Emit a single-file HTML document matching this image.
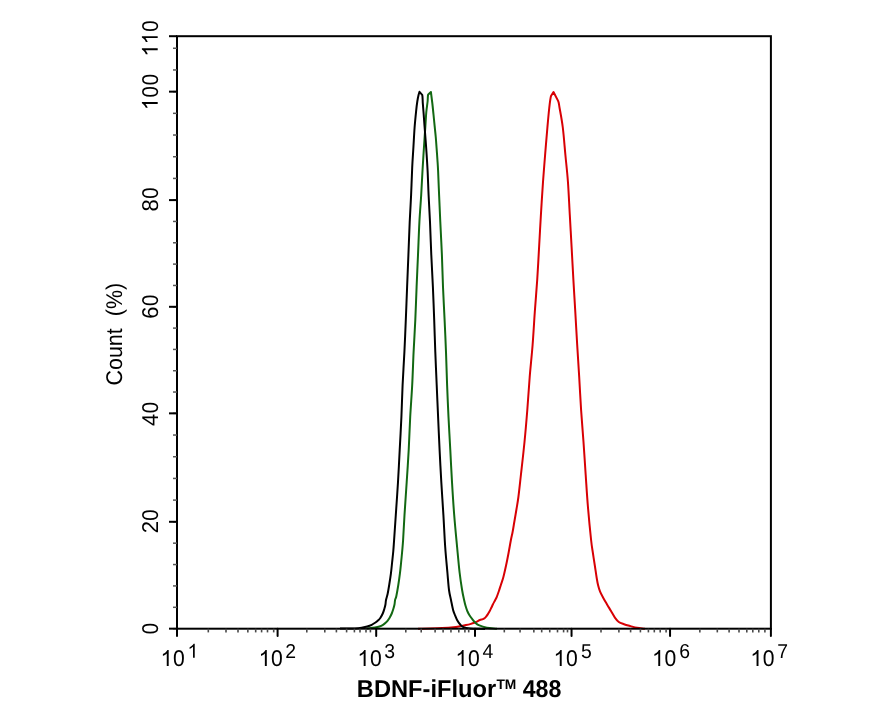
<!DOCTYPE html>
<html><head><meta charset="utf-8"><style>
html,body{margin:0;padding:0;background:#fff;}
svg{display:block;will-change:transform;}
text{font-family:"Liberation Sans",sans-serif;fill:#000;text-rendering:geometricPrecision;}
</style></head><body>
<svg width="888" height="711" viewBox="0 0 888 711">
<path d="M418.00,628.70 C422.00,628.63 426.00,628.60 430.00,628.50 C434.00,628.40 438.08,628.30 442.00,628.10 C445.92,627.90 450.50,627.60 453.50,627.30 C456.50,627.00 457.92,626.67 460.00,626.30 C462.08,625.93 464.30,625.47 466.00,625.10 C467.70,624.73 468.80,624.48 470.20,624.10 C471.60,623.72 473.20,623.27 474.40,622.80 C475.60,622.33 476.48,621.76 477.40,621.30 C478.32,620.84 478.98,620.42 479.90,620.05 C480.82,619.68 482.12,619.41 482.90,619.10 C483.68,618.79 484.03,618.67 484.60,618.20 C485.17,617.73 485.75,616.98 486.30,616.30 C486.85,615.62 487.35,614.95 487.90,614.10 C488.45,613.25 489.03,612.25 489.60,611.20 C490.17,610.15 490.73,608.97 491.30,607.80 C491.87,606.63 492.37,605.47 493.00,604.20 C493.63,602.93 494.47,601.43 495.10,600.20 C495.73,598.97 496.17,598.33 496.80,596.80 C497.43,595.27 498.20,593.05 498.90,591.00 C499.60,588.95 500.25,586.83 501.00,584.50 C501.75,582.17 502.55,580.20 503.40,577.00 C504.25,573.80 505.23,569.35 506.10,565.30 C506.97,561.25 507.80,556.92 508.60,552.70 C509.40,548.48 510.23,543.45 510.90,540.00 C511.57,536.55 512.03,535.00 512.60,532.00 C513.17,529.00 513.65,525.83 514.30,522.00 C514.95,518.17 515.82,513.17 516.50,509.00 C517.18,504.83 517.67,502.67 518.40,497.00 C519.13,491.33 519.88,484.17 520.90,475.00 C521.92,465.83 523.43,452.83 524.50,442.00 C525.57,431.17 526.43,420.83 527.30,410.00 C528.17,399.17 528.82,387.83 529.70,377.00 C530.58,366.17 531.75,355.83 532.60,345.00 C533.45,334.17 534.03,322.83 534.80,312.00 C535.57,301.17 536.48,290.83 537.20,280.00 C537.92,269.17 538.48,257.83 539.10,247.00 C539.72,236.17 540.25,225.83 540.90,215.00 C541.55,204.17 542.30,192.00 543.00,182.00 C543.70,172.00 544.37,164.08 545.10,155.00 C545.83,145.92 546.70,135.42 547.40,127.50 C548.10,119.58 548.70,112.75 549.30,107.50 C549.90,102.25 550.30,98.58 551.00,96.00 L553.50,92.00 L558.10,100.90 C559.10,103.48 558.72,103.07 559.50,107.50 C560.28,111.93 561.82,119.58 562.80,127.50 C563.78,135.42 564.54,145.92 565.40,155.00 C566.26,164.08 567.22,172.00 567.95,182.00 C568.68,192.00 569.19,204.17 569.80,215.00 C570.41,225.83 571.00,236.17 571.60,247.00 C572.20,257.83 572.78,269.17 573.40,280.00 C574.02,290.83 574.67,301.17 575.30,312.00 C575.93,322.83 576.55,334.17 577.20,345.00 C577.85,355.83 578.55,366.17 579.20,377.00 C579.85,387.83 580.38,399.17 581.10,410.00 C581.82,420.83 582.73,431.17 583.50,442.00 C584.27,452.83 584.96,464.17 585.70,475.00 C586.44,485.83 587.05,496.17 587.95,507.00 C588.85,517.83 590.28,532.33 591.10,540.00 C591.92,547.67 592.27,548.67 592.90,553.00 C593.53,557.33 594.27,561.83 594.90,566.00 C595.53,570.17 596.17,574.78 596.70,578.00 C597.23,581.22 597.53,583.02 598.10,585.30 C598.67,587.58 599.23,589.58 600.10,591.70 C600.97,593.82 602.12,595.83 603.30,598.00 C604.48,600.17 605.92,602.53 607.20,604.70 C608.48,606.87 609.72,608.85 611.00,611.00 C612.28,613.15 613.60,615.77 614.90,617.60 C616.20,619.43 617.28,620.90 618.80,622.00 C620.32,623.10 622.05,623.52 624.00,624.20 C625.95,624.88 628.33,625.50 630.50,626.10 C632.67,626.70 634.58,627.37 637.00,627.80 C639.42,628.23 642.33,628.40 645.00,628.70" fill="none" stroke="#d80004" stroke-width="2" stroke-linejoin="round"/>
<path d="M366.00,628.70 C368.97,628.30 372.67,627.87 374.90,627.50 C377.13,627.13 378.05,626.95 379.40,626.50 C380.75,626.05 381.92,625.47 383.00,624.80 C384.08,624.13 385.08,623.25 385.90,622.50 C386.72,621.75 387.30,621.05 387.90,620.30 C388.50,619.55 388.86,619.13 389.50,618.00 C390.14,616.87 391.12,615.00 391.75,613.50 C392.38,612.00 392.84,610.50 393.30,609.00 C393.76,607.50 394.20,606.00 394.50,604.50 C394.80,603.00 394.80,601.38 395.10,600.00 C395.40,598.62 395.77,598.70 396.30,596.20 C396.83,593.70 397.70,588.75 398.30,585.00 C398.90,581.25 399.43,577.45 399.90,573.70 C400.37,569.95 400.72,566.28 401.10,562.50 C401.48,558.72 401.87,554.75 402.20,551.00 C402.53,547.25 402.72,546.00 403.10,540.00 C403.48,534.00 403.90,524.67 404.50,515.00 C405.10,505.33 406.00,492.83 406.70,482.00 C407.40,471.17 408.12,460.83 408.70,450.00 C409.28,439.17 409.62,427.83 410.20,417.00 C410.78,406.17 411.63,395.83 412.20,385.00 C412.77,374.17 413.08,362.83 413.60,352.00 C414.12,341.17 414.80,330.83 415.30,320.00 C415.80,309.17 416.15,297.83 416.60,287.00 C417.05,276.17 417.53,265.83 418.00,255.00 C418.47,244.17 418.87,232.00 419.40,222.00 C419.93,212.00 420.68,203.55 421.20,195.00 C421.72,186.45 422.05,178.50 422.50,170.70 C422.95,162.90 423.42,155.70 423.90,148.20 C424.38,140.70 425.00,131.73 425.40,125.70 C425.80,119.67 425.93,116.03 426.30,112.00 C426.67,107.97 427.28,104.43 427.60,101.50 C427.92,98.57 427.65,95.98 428.20,94.40 L430.90,92.00 L432.30,103.00 C432.73,106.75 433.12,110.72 433.50,114.50 C433.88,118.28 434.23,121.95 434.60,125.70 C434.98,129.45 435.42,133.25 435.75,137.00 C436.08,140.75 436.33,144.45 436.60,148.20 C436.88,151.95 437.15,155.75 437.40,159.50 C437.65,163.25 437.82,164.78 438.10,170.70 C438.38,176.62 438.73,186.45 439.10,195.00 C439.47,203.55 439.83,212.00 440.30,222.00 C440.77,232.00 441.45,244.17 441.90,255.00 C442.35,265.83 442.55,276.17 443.00,287.00 C443.45,297.83 444.10,309.17 444.60,320.00 C445.10,330.83 445.58,341.17 446.00,352.00 C446.42,362.83 446.68,374.17 447.10,385.00 C447.52,395.83 447.97,406.17 448.50,417.00 C449.03,427.83 449.72,439.17 450.30,450.00 C450.88,460.83 451.35,471.17 452.00,482.00 C452.65,492.83 453.35,504.17 454.20,515.00 C455.05,525.83 456.20,537.42 457.10,547.00 C458.00,556.58 458.77,565.33 459.60,572.50 C460.43,579.67 461.35,585.42 462.10,590.00 C462.85,594.58 463.52,597.33 464.10,600.00 C464.68,602.67 465.03,604.08 465.60,606.00 C466.17,607.92 466.80,609.87 467.50,611.50 C468.20,613.13 469.00,614.52 469.80,615.80 C470.60,617.08 471.38,618.07 472.30,619.20 C473.22,620.33 474.23,621.62 475.30,622.60 C476.37,623.58 476.78,624.25 478.70,625.10 C480.62,625.95 483.75,627.10 486.80,627.70 C489.85,628.30 493.60,628.37 497.00,628.70" fill="none" stroke="#126812" stroke-width="2" stroke-linejoin="round"/>
<path d="M340.00,628.60 C345.00,628.53 351.22,628.58 355.00,628.40 C358.78,628.22 360.67,627.82 362.70,627.50 C364.73,627.18 365.70,626.95 367.20,626.50 C368.70,626.05 370.32,625.47 371.70,624.80 C373.08,624.13 374.42,623.25 375.50,622.50 C376.58,621.75 377.40,621.05 378.20,620.30 C379.00,619.55 379.54,619.13 380.30,618.00 C381.06,616.87 382.08,615.00 382.75,613.50 C383.42,612.00 383.85,610.50 384.30,609.00 C384.75,607.50 385.17,606.00 385.45,604.50 C385.73,603.00 385.64,601.75 386.00,600.00 C386.36,598.25 387.07,596.50 387.60,594.00 C388.13,591.50 388.65,588.38 389.20,585.00 C389.75,581.62 390.42,577.45 390.90,573.70 C391.38,569.95 391.70,566.28 392.10,562.50 C392.50,558.72 392.97,554.75 393.30,551.00 C393.63,547.25 393.68,546.00 394.10,540.00 C394.52,534.00 395.15,524.67 395.80,515.00 C396.45,505.33 397.35,492.83 398.00,482.00 C398.65,471.17 399.13,460.83 399.70,450.00 C400.27,439.17 400.92,427.83 401.40,417.00 C401.88,406.17 402.10,395.83 402.60,385.00 C403.10,374.17 403.87,362.83 404.40,352.00 C404.93,341.17 405.35,330.83 405.80,320.00 C406.25,309.17 406.67,297.83 407.10,287.00 C407.53,276.17 407.97,265.83 408.40,255.00 C408.83,244.17 409.25,232.00 409.70,222.00 C410.15,212.00 410.68,204.08 411.10,195.00 C411.52,185.92 411.82,175.42 412.20,167.50 C412.58,159.58 413.00,154.17 413.40,147.50 C413.80,140.83 414.15,133.53 414.60,127.50 C415.05,121.47 415.65,115.63 416.10,111.30 C416.55,106.97 416.88,104.25 417.30,101.50 C417.72,98.75 418.23,96.42 418.60,94.80 L419.50,91.80 L422.20,94.80 C422.75,96.70 422.55,99.92 422.80,103.20 C423.05,106.48 423.42,110.75 423.70,114.50 C423.98,118.25 424.08,120.08 424.50,125.70 C424.92,131.32 425.68,140.70 426.20,148.20 C426.72,155.70 427.20,162.90 427.60,170.70 C428.00,178.50 428.20,186.45 428.60,195.00 C429.00,203.55 429.55,212.00 430.00,222.00 C430.45,232.00 430.82,244.17 431.30,255.00 C431.78,265.83 432.42,276.17 432.90,287.00 C433.38,297.83 433.80,309.17 434.20,320.00 C434.60,330.83 434.88,341.17 435.30,352.00 C435.72,362.83 436.23,374.17 436.70,385.00 C437.17,395.83 437.62,406.17 438.10,417.00 C438.58,427.83 439.07,439.17 439.60,450.00 C440.13,460.83 440.67,471.17 441.30,482.00 C441.93,492.83 442.75,504.17 443.40,515.00 C444.05,525.83 444.53,537.42 445.20,547.00 C445.87,556.58 446.77,565.33 447.40,572.50 C448.03,579.67 448.40,585.42 449.00,590.00 C449.60,594.58 450.32,596.67 451.00,600.00 C451.68,603.33 452.45,607.50 453.10,610.00 C453.75,612.50 454.23,613.33 454.90,615.00 C455.57,616.67 456.28,618.50 457.10,620.00 C457.92,621.50 458.75,622.80 459.80,624.00 C460.85,625.20 461.70,626.45 463.40,627.20 C465.10,627.95 466.40,628.22 470.00,628.50 C473.60,628.78 480.00,628.77 485.00,628.90" fill="none" stroke="#000" stroke-width="2" stroke-linejoin="round"/>
<rect x="177.0" y="36.2" width="593.90" height="592.50" fill="none" stroke="#000" stroke-width="2"/>
<line x1="173" y1="628.67" x2="177.0" y2="628.67" stroke="#555" stroke-width="1.5"/>
<line x1="173" y1="607.30" x2="177.0" y2="607.30" stroke="#555" stroke-width="1.5"/>
<line x1="173" y1="585.92" x2="177.0" y2="585.92" stroke="#555" stroke-width="1.5"/>
<line x1="173" y1="564.55" x2="177.0" y2="564.55" stroke="#555" stroke-width="1.5"/>
<line x1="173" y1="543.17" x2="177.0" y2="543.17" stroke="#555" stroke-width="1.5"/>
<line x1="173" y1="521.80" x2="177.0" y2="521.80" stroke="#555" stroke-width="1.5"/>
<line x1="173" y1="500.11" x2="177.0" y2="500.11" stroke="#555" stroke-width="1.5"/>
<line x1="173" y1="478.42" x2="177.0" y2="478.42" stroke="#555" stroke-width="1.5"/>
<line x1="173" y1="456.73" x2="177.0" y2="456.73" stroke="#555" stroke-width="1.5"/>
<line x1="173" y1="435.04" x2="177.0" y2="435.04" stroke="#555" stroke-width="1.5"/>
<line x1="173" y1="413.35" x2="177.0" y2="413.35" stroke="#555" stroke-width="1.5"/>
<line x1="173" y1="392.04" x2="177.0" y2="392.04" stroke="#555" stroke-width="1.5"/>
<line x1="173" y1="370.73" x2="177.0" y2="370.73" stroke="#555" stroke-width="1.5"/>
<line x1="173" y1="349.42" x2="177.0" y2="349.42" stroke="#555" stroke-width="1.5"/>
<line x1="173" y1="328.11" x2="177.0" y2="328.11" stroke="#555" stroke-width="1.5"/>
<line x1="173" y1="306.80" x2="177.0" y2="306.80" stroke="#555" stroke-width="1.5"/>
<line x1="173" y1="285.46" x2="177.0" y2="285.46" stroke="#555" stroke-width="1.5"/>
<line x1="173" y1="264.12" x2="177.0" y2="264.12" stroke="#555" stroke-width="1.5"/>
<line x1="173" y1="242.78" x2="177.0" y2="242.78" stroke="#555" stroke-width="1.5"/>
<line x1="173" y1="221.44" x2="177.0" y2="221.44" stroke="#555" stroke-width="1.5"/>
<line x1="173" y1="200.10" x2="177.0" y2="200.10" stroke="#555" stroke-width="1.5"/>
<line x1="173" y1="178.41" x2="177.0" y2="178.41" stroke="#555" stroke-width="1.5"/>
<line x1="173" y1="156.72" x2="177.0" y2="156.72" stroke="#555" stroke-width="1.5"/>
<line x1="173" y1="135.03" x2="177.0" y2="135.03" stroke="#555" stroke-width="1.5"/>
<line x1="173" y1="113.34" x2="177.0" y2="113.34" stroke="#555" stroke-width="1.5"/>
<line x1="173" y1="91.65" x2="177.0" y2="91.65" stroke="#555" stroke-width="1.5"/>
<line x1="173" y1="69.96" x2="177.0" y2="69.96" stroke="#555" stroke-width="1.5"/>
<line x1="173" y1="48.27" x2="177.0" y2="48.27" stroke="#555" stroke-width="1.5"/>
<line x1="169" y1="628.67" x2="177.0" y2="628.67" stroke="#000" stroke-width="2"/>
<line x1="169" y1="521.80" x2="177.0" y2="521.80" stroke="#000" stroke-width="2"/>
<line x1="169" y1="413.35" x2="177.0" y2="413.35" stroke="#000" stroke-width="2"/>
<line x1="169" y1="306.80" x2="177.0" y2="306.80" stroke="#000" stroke-width="2"/>
<line x1="169" y1="200.10" x2="177.0" y2="200.10" stroke="#000" stroke-width="2"/>
<line x1="169" y1="91.65" x2="177.0" y2="91.65" stroke="#000" stroke-width="2"/>
<line x1="169" y1="36.20" x2="177.0" y2="36.20" stroke="#000" stroke-width="2"/>
<line x1="208.30" y1="628.7" x2="208.30" y2="632.4" stroke="#4a4a4a" stroke-width="1.6"/>
<line x1="226.00" y1="628.7" x2="226.00" y2="632.4" stroke="#4a4a4a" stroke-width="1.6"/>
<line x1="238.00" y1="628.7" x2="238.00" y2="632.4" stroke="#4a4a4a" stroke-width="1.6"/>
<line x1="247.85" y1="628.7" x2="247.85" y2="632.4" stroke="#4a4a4a" stroke-width="1.6"/>
<line x1="255.70" y1="628.7" x2="255.70" y2="632.4" stroke="#4a4a4a" stroke-width="1.6"/>
<line x1="261.60" y1="628.7" x2="261.60" y2="632.4" stroke="#4a4a4a" stroke-width="1.6"/>
<line x1="267.50" y1="628.7" x2="267.50" y2="632.4" stroke="#4a4a4a" stroke-width="1.6"/>
<line x1="273.70" y1="628.7" x2="273.70" y2="632.4" stroke="#4a4a4a" stroke-width="1.6"/>
<line x1="306.80" y1="628.7" x2="306.80" y2="632.4" stroke="#4a4a4a" stroke-width="1.6"/>
<line x1="324.80" y1="628.7" x2="324.80" y2="632.4" stroke="#4a4a4a" stroke-width="1.6"/>
<line x1="336.40" y1="628.7" x2="336.40" y2="632.4" stroke="#4a4a4a" stroke-width="1.6"/>
<line x1="346.60" y1="628.7" x2="346.60" y2="632.4" stroke="#4a4a4a" stroke-width="1.6"/>
<line x1="354.40" y1="628.7" x2="354.40" y2="632.4" stroke="#4a4a4a" stroke-width="1.6"/>
<line x1="360.00" y1="628.7" x2="360.00" y2="632.4" stroke="#4a4a4a" stroke-width="1.6"/>
<line x1="366.00" y1="628.7" x2="366.00" y2="632.4" stroke="#4a4a4a" stroke-width="1.6"/>
<line x1="370.40" y1="628.7" x2="370.40" y2="632.4" stroke="#4a4a4a" stroke-width="1.6"/>
<line x1="405.80" y1="628.7" x2="405.80" y2="632.4" stroke="#4a4a4a" stroke-width="1.6"/>
<line x1="421.20" y1="628.7" x2="421.20" y2="632.4" stroke="#4a4a4a" stroke-width="1.6"/>
<line x1="435.10" y1="628.7" x2="435.10" y2="632.4" stroke="#4a4a4a" stroke-width="1.6"/>
<line x1="443.10" y1="628.7" x2="443.10" y2="632.4" stroke="#4a4a4a" stroke-width="1.6"/>
<line x1="450.95" y1="628.7" x2="450.95" y2="632.4" stroke="#4a4a4a" stroke-width="1.6"/>
<line x1="458.80" y1="628.7" x2="458.80" y2="632.4" stroke="#4a4a4a" stroke-width="1.6"/>
<line x1="464.90" y1="628.7" x2="464.90" y2="632.4" stroke="#4a4a4a" stroke-width="1.6"/>
<line x1="468.70" y1="628.7" x2="468.70" y2="632.4" stroke="#4a4a4a" stroke-width="1.6"/>
<line x1="504.30" y1="628.7" x2="504.30" y2="632.4" stroke="#4a4a4a" stroke-width="1.6"/>
<line x1="520.05" y1="628.7" x2="520.05" y2="632.4" stroke="#4a4a4a" stroke-width="1.6"/>
<line x1="533.85" y1="628.7" x2="533.85" y2="632.4" stroke="#4a4a4a" stroke-width="1.6"/>
<line x1="541.70" y1="628.7" x2="541.70" y2="632.4" stroke="#4a4a4a" stroke-width="1.6"/>
<line x1="549.75" y1="628.7" x2="549.75" y2="632.4" stroke="#4a4a4a" stroke-width="1.6"/>
<line x1="557.50" y1="628.7" x2="557.50" y2="632.4" stroke="#4a4a4a" stroke-width="1.6"/>
<line x1="563.60" y1="628.7" x2="563.60" y2="632.4" stroke="#4a4a4a" stroke-width="1.6"/>
<line x1="567.50" y1="628.7" x2="567.50" y2="632.4" stroke="#4a4a4a" stroke-width="1.6"/>
<line x1="601.00" y1="628.7" x2="601.00" y2="632.4" stroke="#4a4a4a" stroke-width="1.6"/>
<line x1="618.90" y1="628.7" x2="618.90" y2="632.4" stroke="#4a4a4a" stroke-width="1.6"/>
<line x1="630.60" y1="628.7" x2="630.60" y2="632.4" stroke="#4a4a4a" stroke-width="1.6"/>
<line x1="640.40" y1="628.7" x2="640.40" y2="632.4" stroke="#4a4a4a" stroke-width="1.6"/>
<line x1="648.40" y1="628.7" x2="648.40" y2="632.4" stroke="#4a4a4a" stroke-width="1.6"/>
<line x1="654.30" y1="628.7" x2="654.30" y2="632.4" stroke="#4a4a4a" stroke-width="1.6"/>
<line x1="660.20" y1="628.7" x2="660.20" y2="632.4" stroke="#4a4a4a" stroke-width="1.6"/>
<line x1="666.10" y1="628.7" x2="666.10" y2="632.4" stroke="#4a4a4a" stroke-width="1.6"/>
<line x1="699.85" y1="628.7" x2="699.85" y2="632.4" stroke="#4a4a4a" stroke-width="1.6"/>
<line x1="717.30" y1="628.7" x2="717.30" y2="632.4" stroke="#4a4a4a" stroke-width="1.6"/>
<line x1="729.10" y1="628.7" x2="729.10" y2="632.4" stroke="#4a4a4a" stroke-width="1.6"/>
<line x1="739.00" y1="628.7" x2="739.00" y2="632.4" stroke="#4a4a4a" stroke-width="1.6"/>
<line x1="746.80" y1="628.7" x2="746.80" y2="632.4" stroke="#4a4a4a" stroke-width="1.6"/>
<line x1="752.80" y1="628.7" x2="752.80" y2="632.4" stroke="#4a4a4a" stroke-width="1.6"/>
<line x1="758.80" y1="628.7" x2="758.80" y2="632.4" stroke="#4a4a4a" stroke-width="1.6"/>
<line x1="764.90" y1="628.7" x2="764.90" y2="632.4" stroke="#4a4a4a" stroke-width="1.6"/>
<line x1="177.00" y1="628.7" x2="177.00" y2="636" stroke="#000" stroke-width="2" stroke-linecap="round"/>
<line x1="277.60" y1="628.7" x2="277.60" y2="636" stroke="#000" stroke-width="2" stroke-linecap="round"/>
<line x1="376.20" y1="628.7" x2="376.20" y2="636" stroke="#000" stroke-width="2" stroke-linecap="round"/>
<line x1="475.00" y1="628.7" x2="475.00" y2="636" stroke="#000" stroke-width="2" stroke-linecap="round"/>
<line x1="571.55" y1="628.7" x2="571.55" y2="636" stroke="#000" stroke-width="2" stroke-linecap="round"/>
<line x1="670.05" y1="628.7" x2="670.05" y2="636" stroke="#000" stroke-width="2" stroke-linecap="round"/>
<line x1="770.90" y1="628.7" x2="770.90" y2="636" stroke="#000" stroke-width="2" stroke-linecap="round"/>
<g transform="translate(157.7 628.50) rotate(-90)"><text x="-6.12" y="0" font-size="22" transform="translate(0.00 0) scale(0.93 1.04) translate(-0.00 0)">0</text></g>
<g transform="translate(157.7 521.10) rotate(-90)"><text x="-12.24" y="0" font-size="22" transform="scale(1 1.04)">2</text><text x="0.00" y="0" font-size="22" transform="translate(6.12 0) scale(0.93 1.04) translate(-6.12 0)">0</text></g>
<g transform="translate(157.7 413.80) rotate(-90)"><text x="-12.24" y="0" font-size="22" transform="scale(1 1.04)">4</text><text x="0.00" y="0" font-size="22" transform="translate(6.12 0) scale(0.93 1.04) translate(-6.12 0)">0</text></g>
<g transform="translate(157.7 306.45) rotate(-90)"><text x="-12.24" y="0" font-size="22" transform="scale(1 1.04)">6</text><text x="0.00" y="0" font-size="22" transform="translate(6.12 0) scale(0.93 1.04) translate(-6.12 0)">0</text></g>
<g transform="translate(157.7 199.20) rotate(-90)"><text x="-12.24" y="0" font-size="22" transform="scale(1 1.04)">8</text><text x="0.00" y="0" font-size="22" transform="translate(6.12 0) scale(0.93 1.04) translate(-6.12 0)">0</text></g>
<g transform="translate(157.7 91.90) rotate(-90)"><path d="M763 0H583V1147Q518 1085 412.5 1023T223 930V1104Q373 1175 485.5 1276T645 1472H763V0Z" transform="translate(-18.35 0) scale(0.01074 -0.01074)"/><text x="-6.12" y="0" font-size="22" transform="translate(0.00 0) scale(0.93 1.04) translate(-0.00 0)">0</text><text x="6.12" y="0" font-size="22" transform="translate(12.24 0) scale(0.93 1.04) translate(-12.24 0)">0</text></g>
<g transform="translate(157.7 38.20) rotate(-90)"><path d="M763 0H583V1147Q518 1085 412.5 1023T223 930V1104Q373 1175 485.5 1276T645 1472H763V0Z" transform="translate(-18.35 0) scale(0.01074 -0.01074)"/><path d="M763 0H583V1147Q518 1085 412.5 1023T223 930V1104Q373 1175 485.5 1276T645 1472H763V0Z" transform="translate(-6.12 0) scale(0.01074 -0.01074)"/><text x="6.12" y="0" font-size="22" transform="translate(12.24 0) scale(0.93 1.04) translate(-12.24 0)">0</text></g>
<g transform="translate(160.50 665.9)"><path d="M763 0H583V1147Q518 1085 412.5 1023T223 930V1104Q373 1175 485.5 1276T645 1472H763V0Z" transform="translate(0.00 0) scale(0.01074 -0.01074)"/><text x="12.24" y="0" font-size="22" transform="translate(18.35 0) scale(0.96 1.04) translate(-18.35 0)">0</text></g><g transform="translate(187.50 657.7)"><path d="M763 0H583V1147Q518 1085 412.5 1023T223 930V1104Q373 1175 485.5 1276T645 1472H763V0Z" transform="translate(0.00 0) scale(0.00947 -0.00947)"/></g>
<g transform="translate(258.60 665.9)"><path d="M763 0H583V1147Q518 1085 412.5 1023T223 930V1104Q373 1175 485.5 1276T645 1472H763V0Z" transform="translate(0.00 0) scale(0.01074 -0.01074)"/><text x="12.24" y="0" font-size="22" transform="translate(18.35 0) scale(0.96 1.04) translate(-18.35 0)">0</text></g><g transform="translate(285.20 657.7)"><text x="0.00" y="0" font-size="19.4" transform="scale(1 1.04)">2</text></g>
<g transform="translate(357.40 665.9)"><path d="M763 0H583V1147Q518 1085 412.5 1023T223 930V1104Q373 1175 485.5 1276T645 1472H763V0Z" transform="translate(0.00 0) scale(0.01074 -0.01074)"/><text x="12.24" y="0" font-size="22" transform="translate(18.35 0) scale(0.96 1.04) translate(-18.35 0)">0</text></g><g transform="translate(384.30 657.7)"><text x="0.00" y="0" font-size="19.4" transform="scale(1 1.04)">3</text></g>
<g transform="translate(455.40 665.9)"><path d="M763 0H583V1147Q518 1085 412.5 1023T223 930V1104Q373 1175 485.5 1276T645 1472H763V0Z" transform="translate(0.00 0) scale(0.01074 -0.01074)"/><text x="12.24" y="0" font-size="22" transform="translate(18.35 0) scale(0.96 1.04) translate(-18.35 0)">0</text></g><g transform="translate(482.60 657.7)"><text x="0.00" y="0" font-size="19.4" transform="scale(1 1.04)">4</text></g>
<g transform="translate(553.50 665.9)"><path d="M763 0H583V1147Q518 1085 412.5 1023T223 930V1104Q373 1175 485.5 1276T645 1472H763V0Z" transform="translate(0.00 0) scale(0.01074 -0.01074)"/><text x="12.24" y="0" font-size="22" transform="translate(18.35 0) scale(0.96 1.04) translate(-18.35 0)">0</text></g><g transform="translate(580.90 657.7)"><text x="0.00" y="0" font-size="19.4" transform="scale(1 1.04)">5</text></g>
<g transform="translate(652.00 665.9)"><path d="M763 0H583V1147Q518 1085 412.5 1023T223 930V1104Q373 1175 485.5 1276T645 1472H763V0Z" transform="translate(0.00 0) scale(0.01074 -0.01074)"/><text x="12.24" y="0" font-size="22" transform="translate(18.35 0) scale(0.96 1.04) translate(-18.35 0)">0</text></g><g transform="translate(679.20 657.7)"><text x="0.00" y="0" font-size="19.4" transform="scale(1 1.04)">6</text></g>
<g transform="translate(750.30 665.9)"><path d="M763 0H583V1147Q518 1085 412.5 1023T223 930V1104Q373 1175 485.5 1276T645 1472H763V0Z" transform="translate(0.00 0) scale(0.01074 -0.01074)"/><text x="12.24" y="0" font-size="22" transform="translate(18.35 0) scale(0.96 1.04) translate(-18.35 0)">0</text></g><g transform="translate(777.20 657.7)"><text x="0.00" y="0" font-size="19.4" transform="scale(1 1.04)">7</text></g>
<text transform="translate(122.1 334.2) rotate(-90) scale(1 1.06)" text-anchor="middle" font-size="21.5" xml:space="preserve" style="white-space:pre">Count  (%)</text>
<text transform="translate(356.8 696.6) scale(1 1.03)" font-size="23.7" font-weight="bold">BDNF-iFluor</text>
<text x="496.4" y="688.6" font-size="13.8" font-weight="bold">TM</text>
<text transform="translate(522.7 696.6) scale(0.98 1.03)" font-size="23.7" font-weight="bold">488</text>
</svg>
</body></html>
